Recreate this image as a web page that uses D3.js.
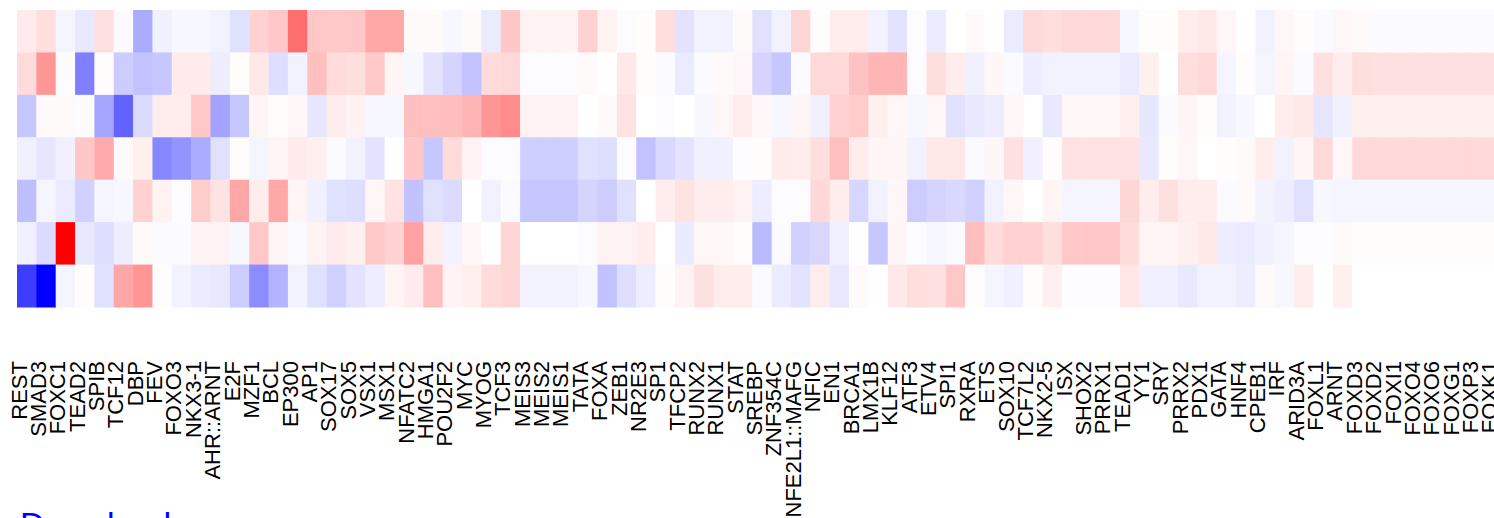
<!DOCTYPE html>
<html lang="en">
<head>
    <meta charset="UTF-8"/>
    <title>Motif heatmap</title>
    <script src="https://d3js.org/d3.v7.min.js"></script>
    <style>
        body { margin: 0; background: white; }
    </style>
</head>
<body>
    <script>
        var w = 1494;
        var h = 518;

        var motifs = ["REST", "SMAD3", "FOXC1", "TEAD2", "SPIB", "TCF12", "DBP", "FEV", "FOXO3", "NKX3-1",
                      "AHR::ARNT", "E2F", "MZF1", "BCL", "EP300", "AP1", "SOX17", "SOX5", "VSX1", "MSX1",
                      "NFATC2", "HMGA1", "POU2F2", "MYC", "MYOG", "TCF3", "MEIS3", "MEIS2", "MEIS1", "TATA",
                      "FOXA", "ZEB1", "NR2E3", "SP1", "TFCP2", "RUNX2", "RUNX1", "STAT", "SREBP", "ZNF354C",
                      "NFE2L1::MAFG", "NFIC", "EN1", "BRCA1", "LMX1B", "KLF12", "ATF3", "ETV4", "SPI1", "RXRA",
                      "ETS", "SOX10", "TCF7L2", "NKX2-5", "ISX", "SHOX2", "PRRX1", "TEAD1", "YY1", "SRY",
                      "PRRX2", "PDX1", "GATA", "HNF4", "CPEB1", "IRF", "ARID3A", "FOXL1", "ARNT", "FOXD3",
                      "FOXD2", "FOXI1", "FOXO4", "FOXO6", "FOXG1", "FOXP3", "FOXK1"];

        // one array per heatmap row, values are scaled to [-1, 1]
        var row1 = [0.08, 0.13, -0.04, -0.09, 0.12, -0.02, -0.33, -0.06, -0.03, -0.03,
                    -0.05, -0.12, 0.18, 0.22, 0.57, 0.22, 0.21, 0.22, 0.34, 0.34,
                    0.02, 0.02, -0.03, 0.02, -0.08, 0.22, 0.05, 0.05, 0.05, 0.18,
                    0.05, -0.01, 0.01, 0.13, -0.11, -0.05, -0.05, 0.02, -0.12, -0.05,
                    0.16, 0.01, 0.07, 0.07, -0.05, -0.11, -0.01, -0.08, 0, 0.02,
                    0, -0.08, 0.15, 0.13, 0.15, 0.15, 0.15, -0.03, 0.01, 0.01,
                    0.07, 0.09, 0.03, 0, -0.05, 0.03, 0.01, -0.02, 0.03, 0.02,
                    -0.015, -0.015, -0.015, -0.015, -0.015, -0.015, -0.015];
        var row2 = [0.14, 0.41, -0.01, -0.5, 0.01, -0.2, -0.24, -0.22, 0.08, 0.08,
                    -0.07, 0.01, 0.09, -0.13, -0.05, 0.25, 0.14, 0.13, 0.21, 0.04,
                    -0.03, -0.11, -0.17, -0.24, 0.14, 0.15, -0.01, -0.01, -0.01, 0.02,
                    0, 0.09, 0.01, -0.02, -0.08, -0.02, 0.02, 0.03, -0.17, -0.22,
                    -0.02, 0.15, 0.15, 0.24, 0.29, 0.29, -0.01, 0.13, 0.07, -0.06,
                    0.03, -0.02, -0.07, -0.05, -0.05, -0.05, -0.05, -0.08, 0.06, 0,
                    0.13, 0.15, -0.04, 0.01, -0.04, 0.04, -0.02, 0.12, 0.07, 0.13,
                    0.12, 0.12, 0.12, 0.12, 0.12, 0.12, 0.12];
        var row3 = [-0.22, 0.02, 0.02, -0.01, -0.35, -0.61, -0.14, 0.07, 0.07, 0.22,
                    -0.36, -0.22, 0.04, 0.01, 0.03, -0.1, 0.07, 0.05, -0.03, -0.03,
                    0.25, 0.25, 0.26, 0.29, 0.41, 0.45, 0.05, 0.05, 0.05, 0,
                    0.02, 0.11, 0, -0.01, 0, -0.03, 0.03, 0.07, 0.03, -0.03,
                    0.04, -0.06, 0.18, 0.2, 0.06, 0.03, -0.03, 0.03, -0.12, -0.09,
                    -0.07, 0.03, 0, -0.09, 0.03, 0.03, 0.03, 0.06, -0.1, -0.02,
                    0.04, 0.01, -0.05, -0.03, 0, 0.07, 0.09, -0.1, -0.06, 0.06,
                    0.06, 0.06, 0.06, 0.06, 0.06, 0.06, 0.06];
        var row4 = [-0.06, -0.1, -0.06, 0.22, 0.33, 0.02, 0.06, -0.47, -0.42, -0.33,
                    -0.12, 0.01, -0.04, 0.04, 0.08, 0.06, -0.02, -0.05, -0.11, 0,
                    0.22, -0.22, 0.14, 0.05, -0.01, -0.01, -0.19, -0.19, -0.19, -0.12,
                    -0.13, -0.01, -0.24, -0.15, -0.11, -0.06, -0.06, -0.01, 0.01, 0.08,
                    0.07, 0.13, 0.25, 0.07, 0.04, 0.04, -0.05, 0.09, 0.09, -0.02,
                    0.03, 0.12, -0.06, 0.01, 0.11, 0.11, 0.11, 0.11, -0.09, 0.01,
                    0.03, 0, 0.01, 0.02, 0.07, -0.05, 0.04, 0.15, 0.03, 0.15,
                    0.15, 0.15, 0.15, 0.15, 0.15, 0.15, 0.15];
        var row5 = [-0.25, -0.04, -0.08, -0.18, -0.04, -0.03, 0.18, 0.05, -0.01, 0.2,
                    0.11, 0.35, 0.07, 0.34, 0.04, -0.06, -0.12, -0.13, 0.03, 0.11,
                    -0.24, -0.12, -0.14, 0, -0.05, -0.02, -0.22, -0.22, -0.22, -0.17,
                    -0.2, -0.12, 0, 0.07, 0.11, 0.07, 0.07, 0.05, -0.07, -0.01,
                    -0.01, 0.15, 0.07, -0.16, -0.05, 0.03, -0.2, -0.17, -0.15, -0.18,
                    -0.05, 0.03, 0, 0.04, -0.04, -0.04, -0.04, 0.16, 0.07, 0.12,
                    0.07, 0.07, -0.02, 0.02, -0.05, -0.07, -0.12, -0.03, -0.04, -0.04,
                    -0.04, -0.04, -0.04, -0.04, -0.04, -0.04, -0.04];
        var row6 = [-0.06, -0.14, 1.0, -0.09, -0.13, -0.07, 0.02, -0.02, -0.02, 0.05,
                    0.05, -0.03, 0.22, 0.04, -0.02, 0.05, 0.08, 0.06, 0.21, 0.18,
                    0.37, 0.07, -0.05, 0.03, 0, 0.16, 0, 0, 0, -0.01,
                    0.05, 0.05, 0.07, 0, -0.08, 0.03, 0.03, 0.01, -0.27, -0.02,
                    -0.18, -0.16, -0.06, 0, -0.22, 0.03, -0.01, -0.03, -0.02, 0.26,
                    0.14, 0.18, 0.18, 0.13, 0.22, 0.22, 0.22, 0.14, 0.04, 0.04,
                    0.06, 0.09, -0.07, -0.08, -0.06, -0.04, -0.01, -0.01, 0.02, 0.01,
                    0.01, 0.01, 0.01, 0.01, 0.01, 0.01, 0.01];
        var row7 = [-0.76, -1.0, -0.04, 0.01, -0.12, 0.35, 0.41, 0.01, -0.05, -0.08,
                    -0.09, -0.2, -0.45, -0.3, -0.05, -0.12, -0.18, -0.11, -0.07, 0.04,
                    0.08, 0.25, 0.05, 0.06, 0.14, 0.16, -0.05, -0.05, -0.05, -0.03,
                    -0.24, -0.13, -0.07, 0.01, 0.05, 0.12, 0.07, 0.07, -0.02, -0.08,
                    -0.11, 0.07, -0.09, 0.02, 0, 0.09, 0.13, 0.12, 0.22, 0.01,
                    -0.04, -0.06, 0.01, 0.06, -0.01, -0.01, -0.01, 0.1, -0.06, -0.06,
                    -0.09, -0.05, -0.05, -0.07, 0.02, -0.03, 0.07, 0, 0.06, 0,
                    0, 0, 0, 0, 0, 0, 0];

        var rows = [row1, row2, row3, row4, row5, row6, row7];

        var cells = [];
        rows.forEach(function(r, i) {
            r.forEach(function(v, j) {
                cells.push({row: i, motif: motifs[j], value: v});
            });
        });

        var cellW = 19.35;

        var xScale = d3.scaleBand()
                       .domain(motifs)
                       .range([17, 17 + motifs.length * cellW]);

        var yScale = d3.scaleBand()
                       .domain(d3.range(rows.length))
                       .range([10, 307]);

        var color = d3.scaleLinear()
                      .domain([-1, 0, 1])
                      .range(["blue", "white", "red"]);

        var svg = d3.select("body")
                    .append("svg")
                    .attr("width", w)
                    .attr("height", h);

        svg.selectAll("rect")
           .data(cells)
           .enter()
           .append("rect")
           .attr("x", function(d) { return xScale(d.motif); })
           .attr("y", function(d) { return yScale(d.row); })
           .attr("width", xScale.bandwidth() + 0.5)
           .attr("height", yScale.bandwidth() + 0.5)
           .attr("fill", function(d) { return color(d.value); });

        var xAxis = d3.axisBottom()
                      .scale(xScale)
                      .tickSize(0);

        var gx = svg.append("g")
                    .attr("transform", "translate(0,361)")
                    .call(xAxis);

        gx.select(".domain").remove();

        gx.selectAll("text")
          .attr("transform", "rotate(-90)")
          .attr("x", 0)
          .attr("y", 0)
          .attr("dy", 0)
          .attr("text-anchor", "end")
          .attr("font-size", "22px")
          .attr("font-family", "'Liberation Sans', Arial, sans-serif")
          .attr("fill", "black");

        svg.append("text")
           .attr("x", 20)
           .attr("y", 536)
           .attr("font-size", "34px")
           .attr("font-family", "'Liberation Sans', Arial, sans-serif")
           .attr("fill", "blue")
           .text("Download");
    </script>
</body>
</html>
